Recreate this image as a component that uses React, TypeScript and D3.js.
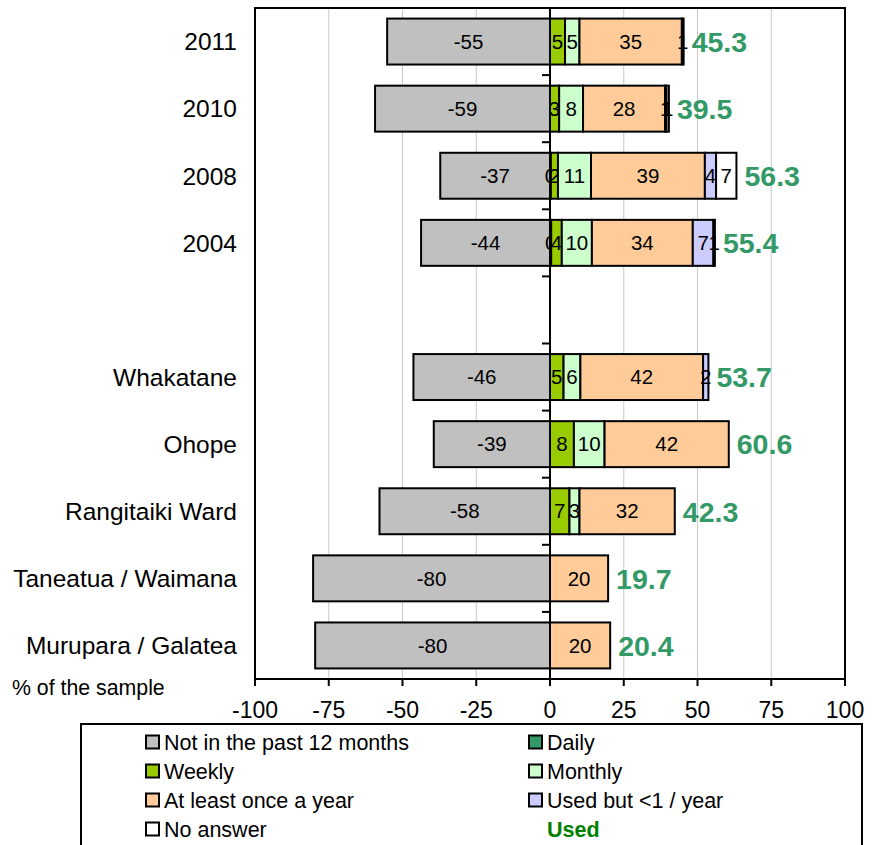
import React from 'react';
import * as d3 from 'd3';

const categories = ['2011', '2010', '2008', '2004', '', 'Whakatane', 'Ohope', 'Rangitaiki Ward', 'Taneatua / Waimana', 'Murupara / Galatea'];
const notUsed = [-55.2, -59.3, -37.2, -43.7, 0, -46.3, -39.4, -57.8, -80.3, -79.6];
const daily = [0, 0, 0.3, 0.4, 0, 0, 0, 0, 0, 0];
const weekly = [5.1, 3.1, 2.4, 3.6, 0, 4.6, 8.1, 6.6, 0, 0];
const monthly = [4.9, 8.1, 11.2, 10.2, 0, 5.7, 10.4, 3.4, 0, 0];
const yearly = [34.7, 27.8, 38.6, 34.2, 0, 41.6, 42.1, 32.3, 19.7, 20.4];
const usedLess = [0.6, 0.5, 3.8, 7.0, 0, 1.8, 0, 0, 0, 0];
const noAnswer = [0, 0.8, 6.9, 0.5, 0, 0, 0, 0, 0, 0];
const usedTotal = [45.3, 39.5, 56.3, 55.4, null, 53.7, 60.6, 42.3, 19.7, 20.4];
const xTicks = [-100, -75, -50, -25, 0, 25, 50, 75, 100];

const seriesNames = ['Not in the past 12 months', 'Daily', 'Weekly', 'Monthly', 'At least once a year', 'Used but <1 / year', 'No answer'];
const seriesColors = ['#C0C0C0', '#339966', '#99CC00', '#CCFFCC', '#FFCC99', '#CCCCFF', '#FFFFFF'];
const positiveSeries = [daily, weekly, monthly, yearly, usedLess, noAnswer];

const FONT = '"Liberation Sans", Arial, sans-serif';

export default function App() {
  const W = 877, H = 845;
  const left = 255, right = 845, top = 8, bottom = 679;
  const x = d3.scaleLinear().domain([-100, 100]).range([left, right]);
  const y = d3.scaleBand<number>().domain(categories.map((_, i) => i)).range([top, bottom]).padding(0);
  const bw = y.bandwidth();
  const barH = bw / 1.46;
  const fmt = (v: number) => d3.format('.0f')(v).replace('\u2212', '-');
  const gridVals = xTicks.filter(v => v !== 0 && Math.abs(v) !== 100);

  // per-series layers: rects then labels, series after series
  const layers: React.ReactNode[] = [];
  const valueLabels: React.ReactNode[] = [];
  const cums = categories.map(() => 0);

  // negative series
  categories.forEach((cat, i) => {
    if (cat === '') return;
    const yc = (y(i) as number) + bw / 2;
    const y0 = yc - barH / 2;
    const nv = notUsed[i];
    if (nv !== 0) {
      layers.push(<rect key={`n${i}`} x={x(nv)} y={y0} width={x(0) - x(nv)} height={barH} fill={seriesColors[0]} stroke="#000" strokeWidth={2} />);
    }
  });
  categories.forEach((cat, i) => {
    if (cat === '') return;
    const yc = (y(i) as number) + bw / 2;
    const nv = notUsed[i];
    if (nv !== 0) {
      layers.push(<text key={`nl${i}`} x={(x(nv) + x(0)) / 2} y={yc} dy="0.35em" textAnchor="middle" fontSize={20.5}>{fmt(nv)}</text>);
    }
  });

  positiveSeries.forEach((s, si) => {
    const segs: { i: number; xa: number; xb: number; yc: number; v: number }[] = [];
    categories.forEach((cat, i) => {
      if (cat === '') return;
      const v = s[i];
      if (v > 0) {
        const yc = (y(i) as number) + bw / 2;
        segs.push({ i, xa: x(cums[i]), xb: x(cums[i] + v), yc, v });
        cums[i] += v;
      }
    });
    segs.forEach(g => {
      layers.push(<rect key={`p${g.i}-${si}`} x={g.xa} y={g.yc - barH / 2} width={g.xb - g.xa} height={barH} fill={seriesColors[si + 1]} stroke="#000" strokeWidth={2} />);
    });
    segs.forEach(g => {
      layers.push(<text key={`pl${g.i}-${si}`} x={(g.xa + g.xb) / 2} y={g.yc} dy="0.35em" textAnchor="middle" fontSize={20.5}>{fmt(g.v)}</text>);
    });
  });

  categories.forEach((cat, i) => {
    const ut = usedTotal[i];
    if (cat === '' || ut == null) return;
    const yc = (y(i) as number) + bw / 2;
    valueLabels.push(<text key={`u${i}`} x={x(cums[i]) + 8} y={yc} dy="0.36em" fontSize={28.5} fontWeight="bold" fill="#339966">{ut.toFixed(1)}</text>);
  });

  const legendItems = [
    { name: seriesNames[0], color: seriesColors[0], col: 0, row: 0 },
    { name: seriesNames[1], color: seriesColors[1], col: 1, row: 0 },
    { name: seriesNames[2], color: seriesColors[2], col: 0, row: 1 },
    { name: seriesNames[3], color: seriesColors[3], col: 1, row: 1 },
    { name: seriesNames[4], color: seriesColors[4], col: 0, row: 2 },
    { name: seriesNames[5], color: seriesColors[5], col: 1, row: 2 },
    { name: seriesNames[6], color: seriesColors[6], col: 0, row: 3 },
  ];
  const colX = [146, 529];
  const rowY = [742, 771, 800, 829];

  return (
    <svg width={W} height={H} style={{ position: 'absolute', left: 0, top: 0, background: '#fff' }} fontFamily={FONT}>
      <rect x={0} y={0} width={W} height={H} fill="#fff" />
      {gridVals.map(v => (
        <line key={`g${v}`} x1={x(v)} x2={x(v)} y1={top} y2={bottom} stroke="#C8C8C8" strokeWidth={1} />
      ))}
      <path d={`M${left},${bottom} V${top} H${right} V${bottom}`} fill="none" stroke="#000" strokeWidth={2} />
      {layers}
      <line x1={x(0)} x2={x(0)} y1={top} y2={bottom} stroke="#000" strokeWidth={2} />
      {categories.map((_, i) => i > 0 ? (
        <line key={`yt${i}`} x1={x(0) - 8} x2={x(0)} y1={y(i) as number} y2={y(i) as number} stroke="#000" strokeWidth={2} />
      ) : null)}
      {valueLabels}
      <line x1={left} x2={right} y1={bottom} y2={bottom} stroke="#000" strokeWidth={2} />
      {xTicks.map(v => (
        <g key={`xt${v}`}>
          <line x1={x(v)} x2={x(v)} y1={bottom} y2={bottom + 7} stroke="#000" strokeWidth={2} />
          <text x={x(v)} y={718} textAnchor="middle" fontSize={23}>{v}</text>
        </g>
      ))}
      {categories.map((c, i) => (
        <text key={`c${i}`} x={237} y={(y(i) as number) + bw / 2} dy="0.36em" textAnchor="end" fontSize={24.5}>{c}</text>
      ))}
      <text x={12} y={695} fontSize={21.3}>% of the sample</text>
      <rect x={81} y={724} width={781} height={130} fill="#fff" stroke="#000" strokeWidth={2} />
      {legendItems.map(it => (
        <g key={it.name}>
          <rect x={colX[it.col]} y={rowY[it.row] - 6.5} width={13} height={13} fill={it.color} stroke="#000" strokeWidth={2} />
          <text x={colX[it.col] + 18} y={rowY[it.row]} dy="0.36em" fontSize={21.5}>{it.name}</text>
        </g>
      ))}
      <text x={colX[1] + 18} y={rowY[3]} dy="0.36em" fontSize={21.5} fontWeight="bold" fill="#008000">Used</text>
    </svg>
  );
}
